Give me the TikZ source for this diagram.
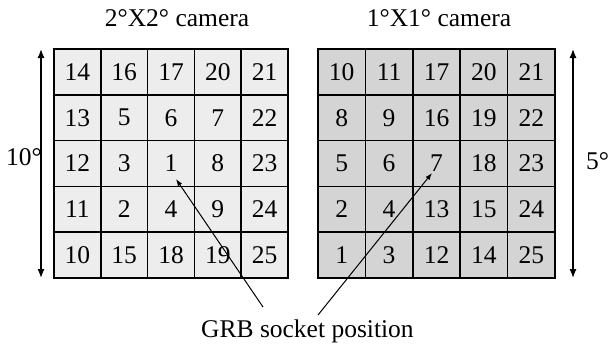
\documentclass[tikz,border=0pt]{standalone}
\usepackage{fontspec}
\setmainfont{Liberation Serif}
\usetikzlibrary{arrows.meta}

\tikzset{
  lbl/.style={font=\fontsize{25.5}{30}\selectfont, inner sep=0pt},
  cellA/.style={draw, line width=1.6pt, fill=black!7, minimum width=46.8pt,
    minimum height=45.8pt, inner sep=0pt, font=\fontsize{25.5}{30}\selectfont},
  cellB/.style={cellA, fill=black!17, minimum width=47.4pt},
  dimarrow/.style={line width=1.3pt, {Latex[length=9pt,width=7pt]}-{Latex[length=9pt,width=7pt]}},
  pointer/.style={line width=1pt, -{Latex[length=7pt,width=5pt]}}
}

\begin{document}
\begin{tikzpicture}[x=1pt,y=-1pt]
  \useasboundingbox (0,0) rectangle (609,346);

  % Titles
  \node[lbl, anchor=base] (titleA) at (177,26) {2°X2° camera};
  \node[lbl, anchor=base] (titleB) at (439,26) {1°X1° camera};

  % 2x2 degree camera grid
  \foreach \row [count=\r] in {{14,16,17,20,21},{13,5,6,7,22},{12,3,1,8,23},{11,2,4,9,24},{10,15,18,19,25}}
    \foreach \n [count=\c] in \row
      \node[cellA] (a\r\c) at ({54+46.8*(\c-0.5)},{49+45.8*(\r-0.5)}) {\n};

  % 1x1 degree camera grid
  \foreach \row [count=\r] in {{10,11,17,20,21},{8,9,16,19,22},{5,6,7,18,23},{2,4,13,15,24},{1,3,12,14,25}}
    \foreach \n [count=\c] in \row
      \node[cellB] (b\r\c) at ({318+47.4*(\c-0.5)},{49+45.8*(\r-0.5)}) {\n};

  % Field of view
  \coordinate (dimAtop) at (41,49);
  \coordinate (dimAbot) at (41,278);
  \coordinate (dimBtop) at (573,49);
  \coordinate (dimBbot) at (573,278);
  \draw[dimarrow] (dimAtop) -- (dimAbot);
  \draw[dimarrow] (dimBtop) -- (dimBbot);
  \node[lbl, anchor=base west] (fovA) at (6,165) {10°};
  \node[lbl, anchor=base west] (fovB) at (586,169) {5°};

  % Socket position
  \node[lbl, anchor=base west] (grb) at (201,337) {GRB socket position};
  \coordinate (grbA) at (263,307);
  \coordinate (grbB) at (318,315);
  \coordinate (sockA) at (176,179);
  \coordinate (sockB) at (432,173);
  \draw[pointer] (grbA) -- (sockA);
  \draw[pointer] (grbB) -- (sockB);
\end{tikzpicture}
\end{document}
